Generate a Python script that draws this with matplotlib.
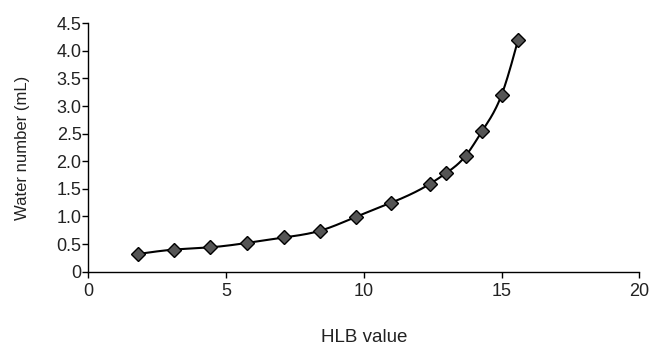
import numpy as np
import matplotlib
matplotlib.use("Agg")
import matplotlib.pyplot as plt

hlb = [1.8, 3.1, 4.4, 5.75, 7.1, 8.4, 9.7, 11.0, 12.4, 13.0, 13.7, 14.3, 15.0, 15.6]
water = [0.32, 0.40, 0.44, 0.52, 0.62, 0.74, 0.99, 1.25, 1.59, 1.79, 2.10, 2.55, 3.20, 4.20]
xticks = [0, 5, 10, 15, 20]
xticklabels = ["0", "5", "10", "15", "20"]
yticks = [0, 0.5, 1.0, 1.5, 2.0, 2.5, 3.0, 3.5, 4.0, 4.5]
yticklabels = ["0", "0.5", "1.0", "1.5", "2.0", "2.5", "3.0", "3.5", "4.0", "4.5"]


def natural_spline(x, y, n=400):
    x = np.asarray(x, float); y = np.asarray(y, float)
    m = len(x)
    h = np.diff(x)
    A = np.zeros((m, m)); r = np.zeros(m)
    A[0, 0] = 1; A[-1, -1] = 1
    for i in range(1, m - 1):
        A[i, i - 1] = h[i - 1]
        A[i, i] = 2 * (h[i - 1] + h[i])
        A[i, i + 1] = h[i]
        r[i] = 6 * ((y[i + 1] - y[i]) / h[i] - (y[i] - y[i - 1]) / h[i - 1])
    M = np.linalg.solve(A, r)
    xs = np.linspace(x[0], x[-1], n)
    idx = np.clip(np.searchsorted(x, xs) - 1, 0, m - 2)
    x0 = x[idx]; x1 = x[idx + 1]; hh = x1 - x0
    a = (x1 - xs) / hh; b = (xs - x0) / hh
    ys = (a * y[idx] + b * y[idx + 1]
          + ((a ** 3 - a) * M[idx] + (b ** 3 - b) * M[idx + 1]) * hh ** 2 / 6)
    return xs, ys


plt.rcParams['font.family'] = ['Liberation Sans', 'DejaVu Sans']
fig = plt.figure(figsize=(6.52, 3.45), dpi=100)
ax = fig.add_axes([0.1354, 0.2125, 0.8451, 0.72])

sx, sy = natural_spline(hlb, water)
ax.plot(sx, sy, color='black', lw=1.5, zorder=2)
ax.plot(hlb, water, linestyle='none', marker='D', markersize=7,
        markerfacecolor='#555555', markeredgecolor='black', markeredgewidth=1.0, zorder=3)

ax.set_xlim(0, 20)
ax.set_ylim(0, 4.5)
ax.set_xticks(xticks)
ax.set_xticklabels(xticklabels)
ax.set_yticks(yticks)
ax.set_yticklabels(yticklabels)
for s in ['top', 'right']:
    ax.spines[s].set_visible(False)
for s in ['left', 'bottom']:
    ax.spines[s].set_linewidth(1.0)
ax.tick_params(direction='out', length=4.3, width=1.0, labelsize=13, colors='black',
               labelcolor='#222222')
ax.tick_params(axis='x', pad=4)
ax.tick_params(axis='y', pad=0.5)
ax.set_xlabel('HLB value', fontsize=13.5, labelpad=21, color='#222222')
ax.set_ylabel('Water number (mL)', fontsize=12, labelpad=19, color='#222222')

fig.savefig('out.png', dpi=100)
